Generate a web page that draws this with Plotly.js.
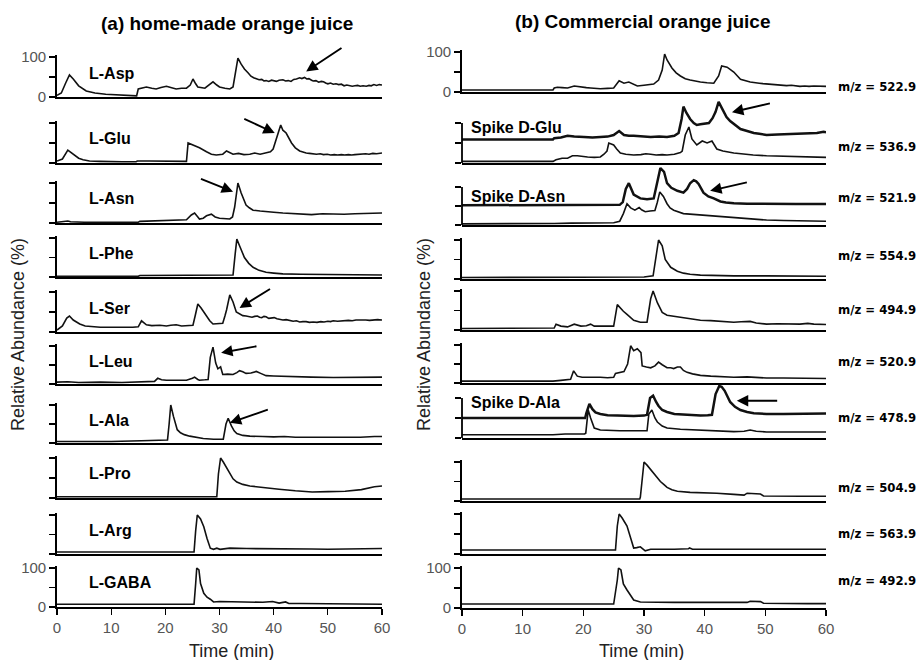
<!DOCTYPE html>
<html><head><meta charset="utf-8">
<script src="https://cdn.plot.ly/plotly-3.0.1.min.js"></script>
<style>html,body{margin:0;padding:0;background:#fff}#chart{width:923px;height:660px}</style>
</head><body><div id="chart"></div>
<script>
// ---------- DATA (time in min, relative abundance in %) ----------
const timeTicks = [0,10,20,30,40,50,60];
const leftNames = ['L-Asp','L-Glu','L-Asn','L-Phe','L-Ser','L-Leu','L-Ala','L-Pro','L-Arg','L-GABA'];
const rightMz = ['m/z = 522.9','m/z = 536.9','m/z = 521.9','m/z = 554.9','m/z = 494.9','m/z = 520.9','m/z = 478.9','m/z = 504.9','m/z = 563.9','m/z = 492.9'];
const spikeNames = ['Spike D-Glu','Spike D-Asn','Spike D-Ala'];

const homeAsp = [[0,4],[0.8,10],[1.6,35],[2.3,55],[3,45],[4,28],[5.4,15],[7,10],[9,7],[11,6],[13,5],[14.7,3],[15,20],[16,24],[16.5,25],[17.5,22],[18.3,20],[19.2,24],[20.2,27],[21,24],[22,20],[23,22],[23.9,22],[24.6,30],[25.1,45],[25.6,33],[26,25],[27.3,22],[28,30],[28.8,38],[29.5,30],[30,25],[31,22],[31.9,20],[32.5,25],[33,65],[33.4,97],[34,82],[34.6,70],[35.3,60],[35.8,52],[36.3,48],[36.8,45],[37.3,43],[37.8,44],[38.2,40],[38.6,41],[39.1,39],[39.6,42],[40,40],[40.5,39],[41,42],[41.7,43],[42.2,40],[42.7,41],[43.2,39],[43.7,44],[44.2,45],[44.8,48],[45.2,46],[45.7,49],[46.1,45],[46.5,46],[47,42],[47.3,40],[47.8,41],[48.3,37],[48.8,39],[49.2,38],[49.6,35],[50,33],[50.5,35],[51,32],[51.5,33],[52,31],[52.5,32],[53,28],[53.5,30],[54,29],[54.5,27],[55,28],[55.5,29],[56,27],[56.5,28],[57.1,27],[57.6,29],[58,28],[58.5,31],[59,29],[59.5,31],[60,30]];
const homeGlu = [[0,5],[1,10],[2,32],[3,22],[4,12],[4.8,8],[6,5],[7.9,4],[10,3],[12,3],[14.6,3],[14.8,5],[17,5],[20,4],[22,4],[23.9,4],[24.2,50],[25.1,45],[26.3,38],[27.6,28],[28.5,22],[29.4,20],[30.6,22],[31.3,30],[31.9,26],[32.5,22],[33.5,24],[34.5,21],[35.6,22],[36.5,25],[37.5,22],[38.6,25],[39.4,28],[39.9,35],[40.8,70],[41.3,95],[41.7,82],[42.3,75],[43.3,50],[44,38],[44.8,30],[45.4,27],[46,25],[46.6,24],[47.2,23],[47.9,22],[48.6,23],[49.2,21],[49.9,22],[50.5,20],[51.2,21],[51.8,20],[52.5,21],[53.1,20],[53.8,21],[54.4,20],[55,21],[55.7,22],[56.3,21],[57,23],[57.6,22],[58.3,24],[59,23],[59.6,25],[60,25]];
const homeAsn = [[0,2],[1.5,3],[2,5],[2.5,3],[5,2],[10,2],[15,2],[15.3,4],[18,5],[20.2,5],[22,6],[23.9,8],[24.8,20],[25.4,25],[26,15],[26.3,10],[27,12],[27.6,18],[28.5,22],[29.2,15],[30,12],[31,11],[31.9,10],[32.4,15],[32.8,40],[33.2,80],[33.4,100],[34,75],[34.9,45],[35.5,38],[36.2,32],[37.5,30],[38.6,28],[40,27],[41.7,25],[43,24],[44.8,22],[47,21],[49,23],[51,22],[53,22],[55,23],[57,24],[60,25]];
const homePhe = [[0,2],[5,2],[10,2],[15,2],[15.3,4],[20,4],[25,4],[30,4],[32.5,5],[32.9,60],[33.2,97],[33.7,80],[34.6,50],[35.4,35],[36.2,25],[37.3,17],[38.6,12],[40,10],[41.7,8],[45,7],[51,6],[55,6],[60,5]];
const homeSer = [[0,5],[1,15],[1.8,35],[2.3,40],[3,30],[4.2,20],[5.2,15],[6.6,13],[8,12],[9.7,12],[12,11],[14,12],[15,13],[15.6,28],[16.5,18],[17.5,16],[19,17],[20.2,15],[21,17],[22,18],[23,15],[24,16],[25.1,17],[25.5,40],[26,70],[26.6,60],[27.6,40],[28.2,28],[28.8,20],[29.8,21],[30.6,22],[31,40],[31.3,55],[31.9,93],[32.5,75],[33.1,50],[33.8,44],[34.3,41],[34.9,40],[35.4,38],[36,37],[36.5,39],[37,40],[37.4,37],[37.8,36],[38.2,39],[38.6,38],[39.1,34],[39.6,35],[40.1,36],[40.6,33],[41.1,31],[41.7,30],[42.3,31],[43,29],[43.6,27],[44.2,28],[44.8,25],[45.4,26],[46,26],[46.6,24],[47.3,25],[48,24],[48.7,26],[49.3,25],[50,27],[50.5,26],[51,28],[51.8,27],[52.5,28],[53,27],[53.8,29],[54.5,28],[55.2,30],[55.9,30],[56.5,29],[57,30],[57.7,29],[58.5,30],[59.2,31],[60,30]];
const homeLeu = [[0,5],[2,6],[4,4],[8,5],[12,4],[15.3,5],[16,7],[18,7],[18.6,15],[19.3,11],[20.2,10],[22,10],[23.9,10],[25,15],[25.4,18],[26,12],[26.3,10],[27.3,11],[27.9,12],[28.3,70],[28.8,97],[29.3,55],[29.7,40],[30.2,45],[30.6,25],[31.5,26],[32.5,25],[33.2,30],[33.7,35],[34.3,32],[34.9,28],[35.8,29],[36.8,33],[37.6,28],[38.6,22],[40,21],[41.7,20],[44,19],[47,18],[51,17],[54,17],[57,18],[60,18]];
const homeAla = [[0,4],[5,4],[10,4],[15.6,6],[17,7],[18,8],[19.8,8],[20.4,8],[20.7,50],[21,100],[21.5,70],[22.2,35],[22.8,27],[23.5,22],[24.5,18],[25.9,15],[27,12],[28.9,10],[30.1,10],[30.7,10],[31.2,50],[31.6,65],[32.2,45],[32.7,32],[33.2,25],[34.3,20],[35.6,18],[37,18],[38,17],[40,16],[42,17],[44,15],[46,15],[48,14],[50.1,14],[52,14],[54,15],[56,15],[58.6,17],[60,17]];
const homePro = [[0,3],[10,3],[20,3],[29.5,3],[29.8,60],[30.2,100],[30.7,90],[31.3,75],[31.9,60],[32.5,48],[33.2,40],[34.3,34],[35.6,30],[38,26],[41,22],[44,18],[47.1,15],[50.1,16],[53.2,17],[56.2,21],[58.6,28],[60,30]];
const homeArg = [[0,5],[10,5],[20,5],[25.3,5],[25.6,60],[25.9,100],[26.5,90],[27.1,70],[27.7,40],[28.3,15],[28.9,12],[29.5,15],[30.1,12],[31,14],[31.9,15],[35,14],[40,14],[44,14],[47,13],[50,12],[55,13],[60,14]];
const homeGaba = [[0,7],[10,7],[20,7],[25.3,7],[25.6,60],[25.8,100],[26.2,95],[26.5,60],[27.1,35],[27.7,25],[28.3,20],[28.9,13],[30,14],[33,13],[36,12],[38,12],[39.8,14],[41,10],[42.2,13],[42.8,9],[45,9],[50,8],[55,8],[60,7]];

const comm523 = [[0,5],[5,5],[10,5],[15,5],[15.2,10],[15.7,12],[16.5,11],[17.4,10],[18.5,15],[19.2,13],[19.8,12],[20.5,11],[21.2,10],[22,9],[22.8,8],[24,9],[25,10],[25.9,28],[26.3,25],[26.7,22],[27.5,25],[28.3,20],[28.9,15],[30,17],[31,19],[31.6,20],[32.4,30],[33,55],[33.4,95],[33.8,80],[34.6,60],[35.3,48],[36,40],[36.8,33],[37.6,30],[38.5,27],[39.3,25],[40.4,23],[41.5,22],[42.3,40],[42.8,65],[43.7,62],[44.8,50],[45.4,40],[45.9,32],[47.5,25],[48.2,23],[49,22],[49.6,21],[50.2,20],[51,19],[52,18],[52.8,17],[53.5,16],[54.3,17],[55,15],[55.7,14],[56.5,15],[57.2,14],[58,15],[58.8,14],[59.4,15],[60,14]];
const comm537 = [[0,4],[5,4],[10,4],[15,4],[15.5,8],[16.5,12],[17.4,12],[18.2,18],[19,18],[19.8,16],[20.7,15],[21.8,14],[22.8,15],[23.4,22],[23.9,30],[24.2,50],[24.6,48],[25,45],[25.5,35],[26.1,25],[27,22],[28.3,20],[29.5,21],[30.3,23],[31.1,22],[32,20],[33,21],[33.8,20],[35,22],[36,26],[36.3,30],[36.8,70],[37.4,90],[37.9,60],[38.7,45],[39.6,55],[40.4,50],[41.2,55],[42,35],[43,30],[44.8,25],[46.5,22],[48,20],[50.2,18],[52,17],[55,15],[58,15],[60,14]];
const spikeGlu = [[0,59],[5,59],[10,59],[15,59],[15.2,62],[16.3,64],[17.4,68],[18.5,66],[20.1,65],[21.5,64],[22.8,65],[24,66],[25,70],[25.9,80],[26.7,70],[27.5,68],[28.3,68],[29.5,66],[31.1,65],[32.5,66],[33.8,65],[35,68],[35.7,75],[36.2,110],[36.5,141],[37,125],[37.6,110],[38.2,100],[38.7,95],[39.3,97],[39.8,98],[40.7,100],[41.3,112],[41.8,128],[42.3,153],[42.7,140],[43.1,130],[43.6,115],[44.2,105],[45,95],[45.9,85],[47,80],[48.1,75],[49,73],[50.2,70],[52,71],[54,72],[55.7,72],[57,74],[58.5,75],[59.6,78],[60,77]];
const comm522 = [[0,3],[5,3],[10,3],[15,3],[15.2,4],[18,5],[20,5],[22,5],[24,6],[25,6],[26,10],[26.6,30],[27.2,56],[27.8,45],[28.5,39],[29.2,46],[29.6,40],[30.2,35],[31,37],[31.8,38],[32.2,60],[32.6,87],[33.2,75],[33.8,56],[34.3,45],[34.9,39],[36.5,30],[38,28],[39.3,26],[42,23],[44.8,20],[47,17],[50.2,13],[53,12],[56,11],[60,10]];
const spikeAsn = [[0,52],[5,52],[10,52],[15,52],[20,52],[24,52],[26,53],[26.5,60],[27,95],[27.5,110],[28,90],[28.3,80],[29.4,70],[30.5,68],[31.6,70],[32.2,110],[32.7,150],[33.3,140],[33.8,110],[34.5,98],[35.5,90],[36.5,85],[37.1,95],[37.6,110],[38.2,118],[38.6,115],[39,108],[39.8,85],[40.6,75],[41.5,70],[42.6,62],[43.5,59],[44.8,57],[47,56],[50.2,55],[55,55],[60,55]];
const comm555 = [[0,4],[5,4],[10,4],[15,4],[15.3,5],[20,5],[25,5],[30,5],[31.5,8],[31.9,50],[32.4,100],[33,85],[33.5,50],[34.4,30],[35.5,20],[36.5,15],[37.6,12],[39.3,10],[42,9],[44.8,8],[50,8],[55,7],[60,7]];
const comm495 = [[0,4],[5,4],[10,4],[15,4],[15.2,5],[15.5,15],[16.3,10],[17.4,8],[18.5,15],[19.6,10],[20.5,11],[21.2,15],[21.8,10],[23,10],[25,10],[25.6,65],[26.1,55],[26.6,48],[27.2,40],[28.3,25],[29.4,20],[30.5,20],[31.1,80],[31.5,100],[32.2,70],[33,45],[33.8,38],[35,35],[36.5,32],[38,29],[39.3,25],[41,24],[43,22],[44.8,20],[46,21],[47.5,22],[48.5,18],[50.2,15],[52,16],[54,15],[55.7,15],[57,17],[58,15],[60,14]];
const comm521 = [[0,5],[5,5],[10,5],[15,5],[16.3,7],[17.9,10],[18.4,32],[19,18],[19.8,15],[20.7,15],[21.8,16],[22.8,15],[24,14],[25,15],[25.3,25],[26,27],[26.7,30],[27.3,50],[27.8,98],[28.3,85],[28.9,90],[29.5,80],[29.7,45],[30.4,42],[31.1,40],[31.8,45],[32.4,55],[33,48],[33.3,45],[33.8,40],[34.4,40],[34.9,38],[35.5,42],[36,42],[36.5,33],[37.1,28],[38,24],[39.3,20],[41,18],[43,17],[44.8,15],[47,16],[50.2,13],[53,13],[56,12],[60,12]];
const comm479 = [[0,8],[5,8],[10,8],[15,8],[17,10],[20.2,10],[20.4,12],[20.8,70],[21.2,50],[21.8,25],[22.8,20],[24,19],[26,18],[28.3,18],[30.5,18],[30.8,60],[31.3,70],[31.8,50],[32.2,40],[33,30],[33.8,25],[36,22],[39.3,20],[42,18],[44.8,16],[46.5,17],[47.5,20],[48.5,17],[50.2,15],[55,15],[60,15]];
const spikeAla = [[0,50],[5,50],[10,50],[15,50],[20.3,50],[20.5,62],[21,85],[21.5,72],[22,64],[22.8,60],[24,57],[25.6,56],[27,55],[28.3,55],[30,56],[30.5,58],[31,100],[31.5,106],[32,90],[32.4,80],[33,70],[33.8,65],[35,60],[36.5,58],[38,56],[39.3,56],[40.5,57],[41.2,58],[41.8,110],[42.4,130],[42.8,128],[43.3,118],[44.2,90],[45,78],[45.9,70],[47,65],[48.1,62],[50.2,60],[53,60],[56,61],[60,61]];
const comm505 = [[0,5],[10,5],[20,5],[29.3,5],[29.4,10],[29.7,60],[30,100],[30.5,92],[31.1,80],[31.6,70],[32.2,60],[32.7,50],[33.3,42],[33.8,35],[34.6,29],[35.5,25],[37.6,22],[40,21],[42,20],[44.8,17],[46.5,15],[47,20],[48,19],[49.2,18],[49.7,13],[52,12],[56,12],[60,12]];
const comm564 = [[0,10],[10,10],[20,10],[25.3,10],[25.6,70],[25.9,100],[26.4,90],[26.8,80],[27.2,70],[27.8,40],[28.3,15],[28.8,16],[29.4,18],[30.2,8],[31.1,12],[35,12],[37.3,13],[37.5,15],[38,12],[40,12],[45,12],[50,12],[55,12],[60,12]];
const comm493 = [[0,10],[10,10],[15,10],[18.5,11],[20,10],[25,10],[25.6,70],[25.8,100],[26.2,95],[26.6,60],[27.2,45],[27.8,30],[28.3,20],[29.4,15],[32,14],[35,14],[39.3,14],[43,14],[47,14],[47.5,17],[49.2,16],[49.7,12],[53,11],[57,11],[60,11]];

const leftSeries = [homeAsp,homeGlu,homeAsn,homePhe,homeSer,homeLeu,homeAla,homePro,homeArg,homeGaba];
const rightSeries = [comm523,comm537,comm522,comm555,comm495,comm521,comm479,comm505,comm564,comm493];
const rightSpikes = {1: spikeGlu, 2: spikeAsn, 6: spikeAla};

// arrows: [panelAxisNumber, tailT, tailV, headT, headV]
const arrows = [[1,52.8,125,46,64],[2,34.3,112,40.2,75],[3,26.3,112,32.5,78],[5,39.6,110,33.7,60],[6,37.1,100,30.3,82],[7,39.2,89,31.9,53],[12,51,150,44.5,127],[13,47.2,113,40.9,90],[17,52.2,93,45.3,93]];

// ---------- LAYOUT GEOMETRY (pixels) ----------
const W = 923, H = 660;
const leftX = [57, 382], rightX = [462, 826];
const leftTop = [57,123,183,238,292,346,405,458,515,568];
const leftBase = [97,163,223,277,332,384,443,498,554,607];
const rightTop = [52,123,187,240,291,345,398,462,514,568];
const rightBase = [92,163,225,279,330,383,438,501,554,608];
const spikeTop = {1: 160, 2: 160, 6: 140};
const labelV = [60,62,62,61,60,60,60,62,61,64];
const spikeLabelV = {1: 90, 2: 76, 6: 88};
const mzY = [86,147,197,255,309,361,417,487,533,580];

const FONT = 'Liberation Sans, Arial, sans-serif';
const traces = [], shapes = [], annotations = [];
const layout = {
  width: W, height: H, margin: {l:0, r:0, t:0, b:0},
  paper_bgcolor: '#fff', plot_bgcolor: 'rgba(0,0,0,0)',
  showlegend: false, font: {family: FONT, color: '#000'}
};
const xr = n => n === 1 ? 'x' : 'x' + n;
const yr = n => n === 1 ? 'y' : 'y' + n;

function panel(n, xpx, top, base, hi, isTop, isBottom, hideYLine) {
  const s = (base - top) / 100;
  const y0 = 1 - base / H, y1 = 1 - (base - hi * s) / H;
  layout['xaxis' + n] = {
    domain: [xpx[0] / W, xpx[1] / W], anchor: yr(n), range: [0, 60],
    showline: true, linecolor: '#000', linewidth: 1.8, showgrid: false, zeroline: false,
    ticks: isBottom ? 'outside' : '', ticklen: 6, tickwidth: 1.3, tickcolor: '#000',
    tickvals: timeTicks, showticklabels: isBottom,
    tickfont: {size: 15, color: '#555', family: FONT}, fixedrange: true
  };
  const lab = (isTop || isBottom) ? ['0', '', '100'] : ['', '', ''];
  layout['yaxis' + n] = {
    domain: [y0, y1], anchor: xr(n), range: [0, hi],
    showline: !hideYLine, linecolor: '#000', linewidth: 1.8, showgrid: false, zeroline: false,
    ticks: 'outside', ticklen: 6, tickwidth: 1.3, tickcolor: '#000',
    tickvals: [0, 50, 100], ticktext: lab,
    tickfont: {size: 15, color: '#555', family: FONT}, fixedrange: true
  };
  if (hideYLine) {
    shapes.push({type: 'line', xref: xr(n) + ' domain', yref: yr(n), x0: 0, x1: 0, y0: 0, y1: 100,
      line: {color: '#000', width: 1.8}});
  }
}

function addTrace(n, pts, width) {
  traces.push({
    type: 'scatter', mode: 'lines', xaxis: xr(n), yaxis: yr(n),
    x: pts.map(p => p[0]), y: pts.map(p => p[1]),
    line: {color: '#111', width: width}, hoverinfo: 'skip'
  });
}

for (let i = 0; i < 10; i++) {
  const n = i + 1;
  panel(n, leftX, leftTop[i], leftBase[i], 104, i === 0, i === 9, false);
  addTrace(n, leftSeries[i], 1.6);
  annotations.push({xref: xr(n), yref: yr(n), x: 5.5, y: labelV[i], text: leftNames[i],
    showarrow: false, xanchor: 'left', yanchor: 'middle',
    font: {size: 16, family: FONT, color: '#000', weight: 'bold'}});
}
for (let i = 0; i < 10; i++) {
  const n = i + 11;
  const sp = rightSpikes[i];
  panel(n, rightX, rightTop[i], rightBase[i], sp ? spikeTop[i] : 104, i === 0, i === 9, !!sp);
  addTrace(n, rightSeries[i], 1.6);
  if (sp) {
    addTrace(n, sp, 2.5);
    const k = i === 1 ? 0 : (i === 2 ? 1 : 2);
    annotations.push({xref: xr(n), yref: yr(n), x: 1.2, y: spikeLabelV[i], text: spikeNames[k],
      showarrow: false, xanchor: 'left', yanchor: 'middle',
      font: {size: 16, family: FONT, color: '#000', weight: 'bold'}});
  }
  annotations.push({xref: 'paper', yref: 'paper', x: 836 / W, y: 1 - mzY[i] / H, text: rightMz[i],
    showarrow: false, xanchor: 'left', yanchor: 'middle',
    font: {size: 13, family: 'DejaVu Sans Condensed, Liberation Sans Narrow, Liberation Sans, sans-serif', color: '#000', weight: 'bold'}});
}
arrows.forEach(a => {
  const n = a[0];
  annotations.push({xref: xr(n), yref: yr(n), axref: xr(n), ayref: yr(n),
    x: a[3], y: a[4], ax: a[1], ay: a[2], text: '', showarrow: true,
    arrowhead: 2, arrowsize: 1.2, arrowwidth: 1.9, arrowcolor: '#000', standoff: 0});
});

// titles and axis labels
annotations.push({xref: 'paper', yref: 'paper', x: 227 / W, y: 1 - 23 / H, text: '(a) home-made orange juice',
  showarrow: false, xanchor: 'center', yanchor: 'middle', font: {size: 19, family: FONT, weight: 'bold'}});
annotations.push({xref: 'paper', yref: 'paper', x: 643 / W, y: 1 - 22 / H, text: '(b) Commercial orange juice',
  showarrow: false, xanchor: 'center', yanchor: 'middle', font: {size: 19, family: FONT, weight: 'bold'}});
annotations.push({xref: 'paper', yref: 'paper', x: 18 / W, y: 1 - 335 / H, text: 'Relative Abundance (%)',
  showarrow: false, textangle: -90, xanchor: 'center', yanchor: 'middle', font: {size: 18, family: FONT, color: '#222'}});
annotations.push({xref: 'paper', yref: 'paper', x: 424 / W, y: 1 - 335 / H, text: 'Relative Abundance (%)',
  showarrow: false, textangle: -90, xanchor: 'center', yanchor: 'middle', font: {size: 18, family: FONT, color: '#222'}});
annotations.push({xref: 'paper', yref: 'paper', x: 232 / W, y: 1 - 651 / H, text: 'Time (min)',
  showarrow: false, xanchor: 'center', yanchor: 'middle', font: {size: 18, family: FONT, color: '#222'}});
annotations.push({xref: 'paper', yref: 'paper', x: 641 / W, y: 1 - 651 / H, text: 'Time (min)',
  showarrow: false, xanchor: 'center', yanchor: 'middle', font: {size: 18, family: FONT, color: '#222'}});

layout.shapes = shapes;
layout.annotations = annotations;
Plotly.newPlot('chart', traces, layout, {displayModeBar: false, staticPlot: true});
</script>
</body></html>
